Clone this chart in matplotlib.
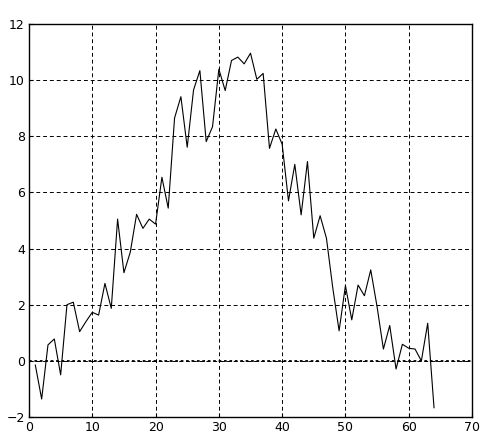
import matplotlib
matplotlib.use('Agg')
import matplotlib.pyplot as plt

# ── Data ────────────────────────────────────────────────────
x = list(range(1, 65))
y = [-0.15, -1.36, 0.57, 0.78, -0.5, 2.0, 2.09, 1.04, 1.4, 1.73,
     1.63, 2.76, 1.87, 5.05, 3.14, 3.87, 5.22, 4.72, 5.05, 4.87,
     6.54, 5.44, 8.65, 9.41, 7.61, 9.65, 10.34, 7.81, 8.34, 10.39,
     9.63, 10.7, 10.82, 10.58, 10.96, 10.03, 10.24, 7.57, 8.26, 7.72,
     5.7, 7.0, 5.2, 7.1, 4.37, 5.17, 4.37, 2.6, 1.07, 2.68,
     1.46, 2.7, 2.32, 3.24, 1.93, 0.42, 1.26, -0.29, 0.59, 0.45,
     0.42, 0.0, 1.34, -1.67]

xticks = [0, 10, 20, 30, 40, 50, 60, 70]
yticks = [-2, 0, 2, 4, 6, 8, 10, 12]

fig = plt.figure(figsize=(4.95, 4.48), dpi=100)
ax = fig.add_axes([29 / 495, 31 / 448, 443 / 495, 393 / 448])

ax.plot(x, y, color='black', linewidth=0.8)
ax.axhline(0, color='black', linestyle=(0, (1.5, 1.5)), linewidth=1.3, zorder=1)

ax.set_xlim(0, 70)
ax.set_ylim(-2, 12)
ax.set_xticks(xticks)
ax.set_yticks(yticks)
ax.grid(True, color='black', linestyle=(0, (4, 3)), linewidth=0.7)
ax.tick_params(direction='in', length=3, labelsize=9, pad=3)
for s in ax.spines.values():
    s.set_linewidth(1.0)

fig.savefig('out.png', dpi=100)
